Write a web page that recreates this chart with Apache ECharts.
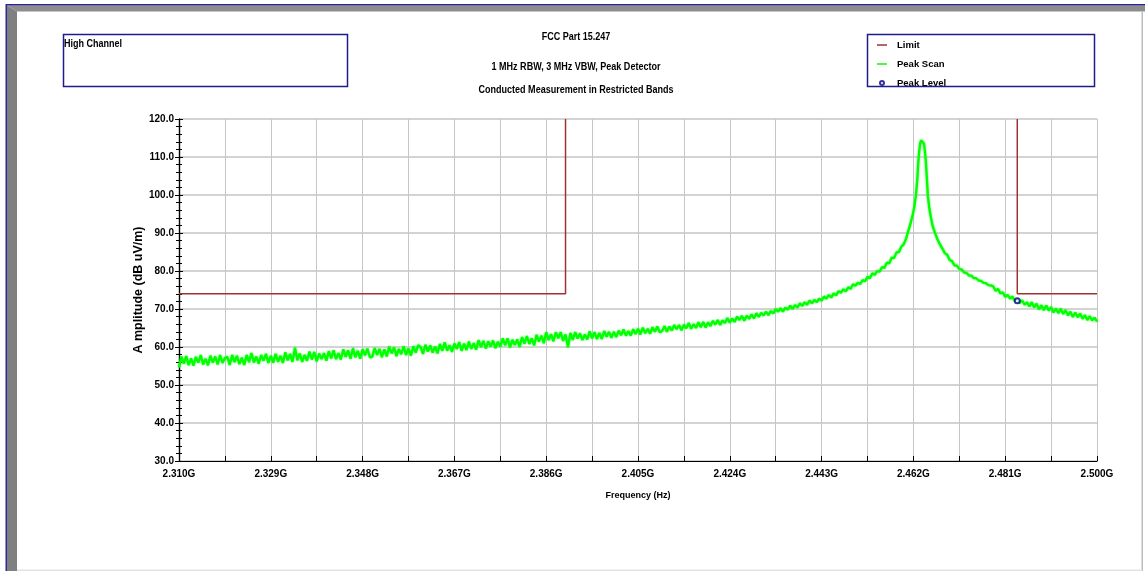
<!DOCTYPE html>
<html>
<head>
<meta charset="utf-8">
<title>FCC Part 15.247 - High Channel</title>
<script src="https://cdn.jsdelivr.net/npm/echarts@6/dist/echarts.min.js"></script>
<style>
  html, body { margin: 0; padding: 0; background: #ffffff; }
  #chart { width: 1145px; height: 571px; }
</style>
</head>
<body>
<div id="chart"></div>
<script>
// ---- text ----
const chartTitle = 'FCC Part 15.247';
const subtitleLines = ['1 MHz RBW, 3 MHz VBW, Peak Detector', 'Conducted Measurement in Restricted Bands'];
const noteText = 'High Channel';
const xAxisTitle = 'Frequency (Hz)';
const yAxisTitle = 'A mplitude (dB uV/m)';
const seriesNames = ['Limit', 'Peak Scan', 'Peak Level'];

// ---- axes (MHz / dBuV/m) ----
const spanStartMHz = 2310;
const spanStopMHz = 2500;
const gridStepMHz = 9.5;          // grid every 9.5 MHz, label every 19 MHz
const levelMin = 30;
const levelMax = 120;
const levelStep = 10;

// ---- peak scan trace ----
const sweepStepMHz = 0.5;

// 2310.0 ... 2450.0 MHz, 0.5 MHz apart
const lowBandStartMHz = 2310;
const lowBandLevels = [
  54.6, 57.5, 55.6, 57.6, 55.2, 57.0, 55.1, 57.4, 55.9, 57.9, 55.4, 56.9, 55.2, 57.7, 55.9, 57.5, 55.4, 57.9, 55.8, 57.1,
  57.4, 55.3, 57.9, 56.0, 57.7, 55.5, 57.2, 55.3, 57.9, 56.0, 58.4, 55.9, 57.5, 55.6, 57.9, 56.4, 58.2, 55.8, 57.7, 55.9,
  58.2, 56.1, 57.7, 55.8, 58.6, 56.5, 58.2, 56.1, 59.8, 56.5, 58.3, 56.1, 57.9, 56.4, 58.8, 56.7, 58.7, 56.2, 58.3, 56.8,
  58.4, 56.4, 58.9, 57.0, 59.1, 56.8, 58.4, 56.7, 59.4, 57.4, 59.1, 56.9, 59.7, 57.3, 59.0, 56.9, 59.4, 57.8, 59.6, 57.3,
  57.4, 59.7, 57.9, 59.5, 57.3, 59.4, 57.5, 60.1, 58.3, 59.9, 57.6, 59.5, 58.1, 60.2, 57.9, 59.6, 57.7, 60.2, 58.5, 60.5,
  60.0, 58.2, 60.6, 58.8, 60.4, 58.5, 60.1, 58.3, 60.8, 59.0, 61.2, 59.0, 60.5, 58.7, 60.9, 59.5, 61.3, 59.0, 60.9, 59.2,
  61.4, 59.5, 61.0, 59.3, 61.8, 60.0, 61.6, 59.6, 61.5, 60.1, 61.7, 59.7, 61.4, 60.1, 62.3, 60.4, 62.3, 59.9, 61.9, 60.5,
  62.0, 60.0, 62.6, 60.9, 62.9, 60.8, 62.3, 60.4, 63.2, 61.4, 63.0, 61.0, 63.9, 61.8, 63.4, 61.5, 63.9, 62.3, 63.9, 61.6,
  63.3, 59.9, 63.7, 61.9, 63.9, 62.2, 63.6, 61.8, 63.3, 62.0, 64.1, 62.3, 63.9, 62.1, 63.7, 62.1, 64.2, 62.7, 64.0, 62.4,
  64.0, 62.6, 64.3, 63.1, 64.6, 63.0, 64.2, 63.0, 64.7, 63.4, 64.8, 63.3, 65.1, 63.6, 64.8, 63.5, 65.2, 64.0, 65.4, 63.9,
  64.2, 65.5, 64.0, 65.4, 64.3, 65.8, 64.7, 65.8, 64.4, 65.9, 64.9, 66.3, 64.8, 66.0, 65.0, 66.5, 65.2, 66.6, 65.1, 66.5,
  65.5, 66.9, 65.9, 67.1, 65.8, 67.0, 66.3, 67.6, 66.4, 67.5, 66.6, 68.0, 67.1, 68.2, 66.9, 68.2, 67.4, 68.6, 67.5, 68.9,
  67.9, 69.0, 68.3, 69.3, 68.4, 69.5, 68.8, 70.0, 69.3, 70.2, 69.3, 70.4, 69.8, 70.9, 70.0, 71.0, 70.4, 71.5, 70.8, 71.8,
  71.1, 72.2, 71.5, 72.4, 71.8, 72.7, 72.2, 73.3, 72.7, 73.7, 73.0, 74.1, 73.6, 74.7, 74.3, 75.2, 74.6, 75.7, 75.3, 76.5,
  76.1
];

// carrier region, finer steps across the top
const peakFreqsMHz = [
  2450.5, 2451, 2451.5, 2452, 2452.5, 2453, 2453.5, 2454, 2454.5, 2455, 2455.5, 2456, 2456.5, 2457, 2457.5,
  2458, 2458.5, 2459, 2459.5, 2460, 2460.5, 2461, 2461.3, 2461.6, 2461.9, 2462.2, 2462.5, 2462.8,
  2463.0, 2463.2, 2463.4, 2463.6, 2463.8, 2464.0, 2464.2, 2464.4, 2464.6, 2464.8, 2465.0, 2465.3, 2465.6,
  2466, 2466.5, 2467, 2467.5, 2468, 2468.5, 2469, 2469.5, 2470, 2470.5, 2471, 2471.5, 2472, 2472.5,
  2473, 2473.5, 2474, 2474.5, 2475, 2475.5, 2476, 2476.5, 2477, 2477.5, 2478
];
const peakLevels = [
  76.9, 76.6, 77.6, 77.3, 78.5, 78.1, 79.4, 79.0, 80.0, 79.8, 81.0, 80.8, 82.2, 82.0, 83.5,
  83.4, 84.9, 85.0, 86.4, 87.0, 88.6, 90.8, 92.0, 93.5, 95.0, 97.0, 99.7, 104.0,
  108.4, 111.5, 113.6, 114.4, 114.6, 114.3, 113.5, 111.3, 108.4, 104.0, 99.7, 96.5, 94.2,
  91.8, 89.9, 88.3, 87.0, 85.9, 84.7, 84.3, 82.9, 82.6, 81.5, 81.4, 80.5, 80.4, 79.6,
  79.5, 78.8, 78.8, 78.1, 78.1, 77.5, 77.4, 76.9, 76.8, 76.3, 76.2
];

// 2478.5 ... 2500.0 MHz, 0.5 MHz apart
const highBandStartMHz = 2478.5;
const highBandLevels = [
  76.0, 74.8, 75.3, 74.1, 74.4, 73.2, 73.7, 72.7, 73.3, 72.1, 72.4, 71.6, 72.3, 71.1, 71.8, 70.7, 71.8, 70.4, 71.4, 69.9,
  71.0, 69.7, 70.9, 69.6, 70.5, 69.1, 70.1, 68.9, 70.1, 68.7, 69.7, 68.3, 69.3, 67.9, 69.1, 67.8, 68.8, 67.4, 68.4, 67.1,
  68.1, 67.0, 67.7, 66.7
];

// ---- restricted-band limit (74 dBuV/m) ----
const limitLowFreqsMHz = [2310, 2390, 2390];
const limitLowLevels = [74, 74, 120];
const limitHighFreqsMHz = [2483.5, 2483.5, 2500];
const limitHighLevels = [120, 74, 74];

// ---- marker at the band edge ----
const peakMarkFreqsMHz = [2483.5];
const peakMarkLevels = [72.2];

// ---------------------------------------------------------------
const FONT = "'Liberation Sans', Arial, Helvetica, sans-serif";
const toAxis = f => f - spanStartMHz;   // axis runs from 0 at the span start

function pairs(freqs, levels) {
  return freqs.map((f, i) => [toAxis(f), levels[i]]);
}

const scanData = [];
lowBandLevels.forEach((v, i) => scanData.push([toAxis(lowBandStartMHz + i * sweepStepMHz), v]));
peakFreqsMHz.forEach((f, i) => scanData.push([toAxis(f), peakLevels[i]]));
highBandLevels.forEach((v, i) => scanData.push([toAxis(highBandStartMHz + i * sweepStepMHz), v]));

const limitColor = '#9e3333';
const scanColor = '#00ff00';
const markColor = '#00008b';

const axisText = { fontFamily: FONT, fontWeight: 'bold', fontSize: 10, color: '#000' };
const nameText = { fontFamily: FONT, fontWeight: 'bold', fontSize: 9, color: '#000' };
const lineIcon = 'path://M0,0L10,0L10,1.5L0,1.5Z';

const yAxisBase = {
  type: 'value',
  min: levelMin,
  max: levelMax,
  interval: levelStep,
  position: 'left',
  axisLine: { show: true, lineStyle: { color: '#000', width: 1.2 } }
};

// condensed heading text drawn at a fixed anchor
function headingText(x, y, text, align) {
  return {
    type: 'text', silent: true, z: 10, x: x, y: y, scaleX: 0.82,
    style: { x: 0, y: 0, text: text, font: 'bold 11px ' + FONT, fill: '#000', align: align, verticalAlign: 'middle' }
  };
}

const chart = echarts.init(document.getElementById('chart'), null, { renderer: 'canvas' });

chart.setOption({
  animation: false,
  backgroundColor: '#ffffff',
  grid: { left: 179, top: 119, width: 918, height: 342, containLabel: false },
  legend: {
    orient: 'vertical',
    left: 877,
    top: 40,
    padding: 0,
    itemWidth: 10,
    itemHeight: 4,
    itemGap: 9,
    selectedMode: false,
    data: [
      { name: seriesNames[0], icon: lineIcon },
      { name: seriesNames[1], icon: lineIcon },
      { name: seriesNames[2], icon: 'emptyCircle' }
    ],
    textStyle: Object.assign({ padding: [0, 0, 0, 5] }, axisText, { fontSize: 9.5 })
  },
  xAxis: {
    type: 'value',
    min: 0,
    max: spanStopMHz - spanStartMHz,
    interval: gridStepMHz,
    axisLine: { show: true, onZero: false, lineStyle: { color: '#000', width: 1.2 } },
    axisTick: { show: true, inside: true, length: 5, lineStyle: { color: '#000' } },
    axisLabel: Object.assign({
      margin: 8,
      showMinLabel: true,
      showMaxLabel: true,
      formatter: v => {
        const k = Math.round(v / gridStepMHz);
        return k % 2 ? '' : ((spanStartMHz + v) / 1000).toFixed(3) + 'G';
      }
    }, axisText),
    splitLine: { show: true, lineStyle: { color: '#c6c6c6', width: 1 } },
    name: xAxisTitle,
    nameLocation: 'middle',
    nameGap: 30,
    nameTextStyle: nameText
  },
  yAxis: [
    Object.assign({}, yAxisBase, {
      axisTick: { show: true, inside: false, length: 4, lineStyle: { color: '#000' } },
      minorTick: { show: true, splitNumber: 5, length: 3, lineStyle: { color: '#000' } },
      axisLabel: Object.assign({ margin: 5, formatter: v => v.toFixed(1) }, axisText),
      splitLine: { show: true, lineStyle: { color: '#d3d3d3', width: 2 } },
      name: yAxisTitle,
      nameLocation: 'middle',
      nameRotate: 90,
      nameGap: 34,
      nameMoveOverlap: false,
      nameTextStyle: Object.assign({}, nameText, { fontSize: 12.5 })
    }),
    Object.assign({}, yAxisBase, {
      axisTick: { show: true, inside: true, length: 4, lineStyle: { color: '#000' } },
      minorTick: { show: true, splitNumber: 5, length: 3, lineStyle: { color: '#000' } },
      axisLabel: { show: false },
      splitLine: { show: false }
    })
  ],
  series: [
    {
      name: 'Limit',
      type: 'line',
      yAxisIndex: 0,
      data: pairs(limitLowFreqsMHz, limitLowLevels),
      showSymbol: false,
      symbol: 'none',
      lineStyle: { color: limitColor, width: 1.5 },
      itemStyle: { color: limitColor },
      z: 3
    },
    {
      name: 'Limit',
      type: 'line',
      yAxisIndex: 0,
      data: pairs(limitHighFreqsMHz, limitHighLevels),
      showSymbol: false,
      symbol: 'none',
      lineStyle: { color: limitColor, width: 1.5 },
      itemStyle: { color: limitColor },
      z: 3
    },
    {
      name: 'Peak Scan',
      type: 'line',
      yAxisIndex: 0,
      data: scanData,
      showSymbol: false,
      symbol: 'none',
      sampling: false,
      lineStyle: { color: scanColor, width: 2.3, shadowBlur: 2, shadowColor: 'rgba(0, 255, 0, 0.7)' },
      itemStyle: { color: scanColor },
      z: 4
    },
    {
      name: 'Peak Level',
      type: 'scatter',
      yAxisIndex: 0,
      data: pairs(peakMarkFreqsMHz, peakMarkLevels),
      symbol: 'emptyCircle',
      symbolSize: 5,
      itemStyle: { color: markColor, borderColor: markColor, borderWidth: 1.5 },
      z: 5
    }
  ],
  graphic: [
    // window frame
    { type: 'polygon', silent: true, z: 10, shape: { points: [[7, 5.5], [1145, 5.5], [1145, 11.5], [17, 11.5]] }, style: { fill: '#8d8d8d' } },
    { type: 'polygon', silent: true, z: 10, shape: { points: [[7, 5.5], [17, 11.5], [17, 571], [7, 571]] }, style: { fill: '#808080' } },
    { type: 'rect', silent: true, z: 11, shape: { x: 6, y: 4, width: 1139, height: 1.5 }, style: { fill: '#24248c' } },
    { type: 'rect', silent: true, z: 11, shape: { x: 5.5, y: 4, width: 1.5, height: 567 }, style: { fill: '#2b2b95' } },
    { type: 'rect', silent: true, z: 10, shape: { x: 1141.5, y: 11.5, width: 1.5, height: 560 }, style: { fill: '#bdbdbd' } },
    { type: 'rect', silent: true, z: 10, shape: { x: 17, y: 569.5, width: 1125, height: 1.5 }, style: { fill: '#e3e3e3' } },
    // note box
    { type: 'rect', silent: true, z: 10, shape: { x: 63.5, y: 34.5, width: 284, height: 52 }, style: { fill: 'none', stroke: '#1c1c8c', lineWidth: 1.5 } },
    headingText(64, 44, noteText, 'left'),
    // legend box
    { type: 'rect', silent: true, z: 10, shape: { x: 867.5, y: 34.5, width: 227, height: 52 }, style: { fill: 'none', stroke: '#1c1c8c', lineWidth: 1.5 } },
    // titles
    headingText(576, 37, chartTitle, 'center'),
    headingText(576, 66.5, subtitleLines[0], 'center'),
    headingText(576, 89.5, subtitleLines[1], 'center')
  ]
});
</script>
</body>
</html>
